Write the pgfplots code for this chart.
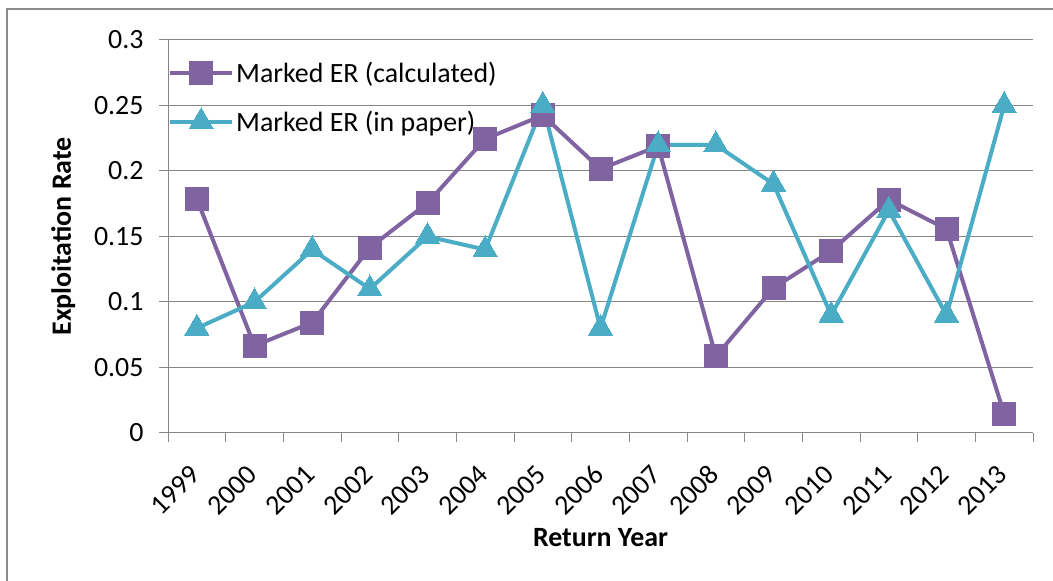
\documentclass[border=0pt]{standalone}
\usepackage{pgfplots}
\pgfplotsset{compat=1.18}
\usepackage{fontspec}
\setmainfont{Carlito}
\definecolor{cpurple}{HTML}{8064A2}
\definecolor{cteal}{HTML}{4BACC6}
\definecolor{axgray}{HTML}{868686}
\begin{document}
\begin{tikzpicture}[x=1bp,y=1bp]
\path[use as bounding box] (0,0) rectangle (1053,581);
\draw[line width=2bp, color=black!45] (7,-20) -- (7,572) -- (1080,572);
\begin{axis}[
  at={(168bp,148bp)}, anchor=south west,
  scale only axis, width=865bp, height=393bp,
  xmin=-0.5, xmax=14.5, ymin=0, ymax=0.3,
  xtick={0,...,14},
  xticklabels={1999,2000,2001,2002,2003,2004,2005,2006,2007,2008,2009,2010,2011,2012,2013},
  minor xtick={-0.5,0.5,...,14.5},
  major x tick style={draw=none},
  minor x tick style={draw=axgray, line width=1bp},
  minor tick length=9bp,
  ytick={0,0.05,...,0.3},
  yticklabels={0,0.05,0.1,0.15,0.2,0.25,0.3},
  major tick length=9bp,
  y tick style={draw=axgray, line width=1bp},
  tick align=outside,
  axis x line*=bottom, axis y line*=left,
  axis line style={draw=axgray, line width=1bp, -},
  ymajorgrids, grid style={draw=axgray, line width=1bp},
  xticklabel style={rotate=45, anchor=north east, font=\fontsize{28}{33}\selectfont, inner sep=1bp, yshift=-8bp, xshift=-20bp},
  yticklabel style={font=\fontsize{28}{33}\selectfont, xshift=-12bp},
  /pgf/number format/assume math mode=true,
  xlabel={\textbf{Return Year}},
  ylabel={\textbf{Exploitation Rate}},
  every axis x label/.style={at={(axis description cs:0.5,-0.265)}, anchor=center, font=\fontsize{28}{33}\selectfont},
  every axis y label/.style={at={(axis description cs:-0.121,0.5)}, rotate=90, anchor=center, font=\fontsize{28}{33}\selectfont},
  legend style={at={(axis description cs:0,0.95)}, anchor=north west, draw=none, fill=none,
    font=\fontsize{28}{33}\selectfont, row sep=22bp, inner sep=0pt},
  legend cell align=left,
  legend image code/.code={\draw[mark repeat=2,mark phase=2,#1] plot coordinates {(0bp,0bp) (31bp,0bp) (62bp,0bp)};},
  clip=false,
]
\addplot[color=cpurple, line width=4bp, mark=square*, mark size=11.5bp, mark options={fill=cpurple, draw=cpurple, line width=0pt}]
coordinates {(0,0.1786) (1,0.0666) (2,0.0843) (3,0.1415) (4,0.1755) (5,0.2245) (6,0.2425) (7,0.2015) (8,0.2190) (9,0.0585) (10,0.1107) (11,0.1390) (12,0.1780) (13,0.1557) (14,0.0145)};
\addlegendentry{Marked ER (calculated)}
\addplot[color=cteal, line width=4bp, mark=triangle*, mark size=14bp, mark options={fill=cteal, draw=cteal, line width=0pt}]
coordinates {(0,0.08) (1,0.10) (2,0.14) (3,0.11) (4,0.15) (5,0.14) (6,0.25) (7,0.08) (8,0.22) (9,0.22) (10,0.19) (11,0.09) (12,0.17) (13,0.09) (14,0.25)};
\addlegendentry{Marked ER (in paper)}
\end{axis}
\end{tikzpicture}
\end{document}
